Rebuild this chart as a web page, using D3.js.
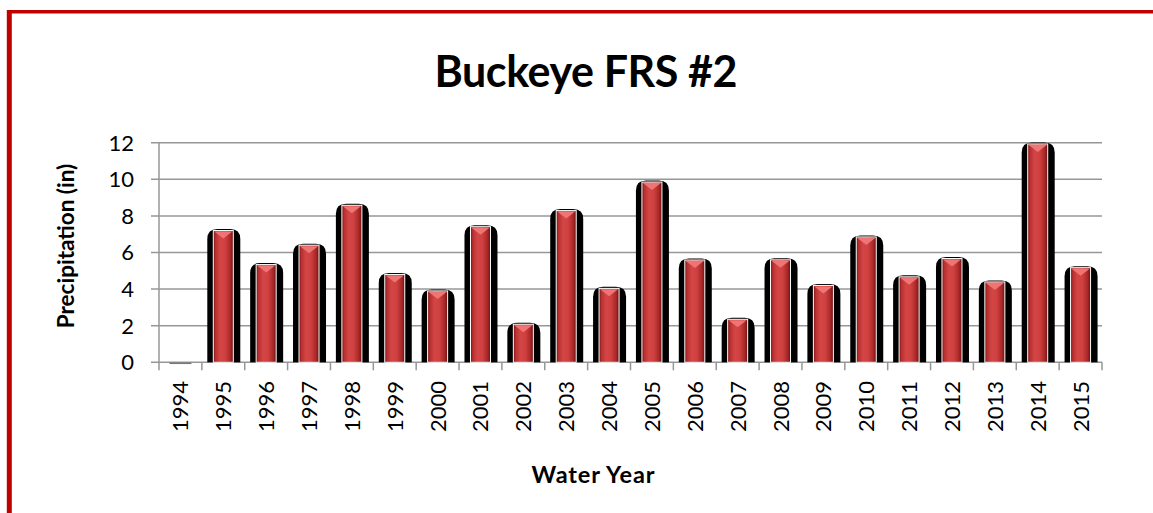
<!DOCTYPE html>
<html>
<head>
<meta charset="utf-8">
<script src="https://cdn.jsdelivr.net/npm/d3@7"></script>
<style>
  html, body { margin: 0; padding: 0; background: #fff; }
  svg { display: block; }
</style>
</head>
<body>
<svg id="chart" width="1153" height="513"></svg>
<script>
const years = ['1994', '1995', '1996', '1997', '1998', '1999', '2000', '2001', '2002', '2003', '2004',
  '2005', '2006', '2007', '2008', '2009', '2010', '2011', '2012', '2013', '2014', '2015'];
const precip = [0, 7.2, 5.34, 6.4, 8.58, 4.8, 3.9, 7.41, 2.08, 8.29, 4.04,
  9.85, 5.59, 2.35, 5.6, 4.2, 6.85, 4.67, 5.67, 4.39, 11.93, 5.17];
const yTicks = [0, 2, 4, 6, 8, 10, 12];

const font = "Lato, Carlito, 'Open Sans', sans-serif";
const svg = d3.select('#chart');

// frame (red border, only top and left are in view)
svg.append('line')
  .attr('x1', 7).attr('x2', 1153).attr('y1', 11.7).attr('y2', 11.7)
  .attr('stroke', '#c00000').attr('stroke-width', 3.5);
svg.append('line')
  .attr('x1', 9.3).attr('x2', 9.3).attr('y1', 10).attr('y2', 513)
  .attr('stroke', '#c00000').attr('stroke-width', 5);

const plot = { left: 159, right: 1102, top: 142.7, bottom: 362.3 };

const x = d3.scaleBand()
  .domain(years)
  .range([plot.left, plot.right])
  .padding(0);

const y = d3.scaleLinear()
  .domain([0, 12])
  .range([plot.bottom, plot.top]);

// gradient for the red bars
const defs = svg.append('defs');
const grad = defs.append('linearGradient')
  .attr('id', 'barGrad')
  .attr('x1', '0%').attr('x2', '100%').attr('y1', '0%').attr('y2', '0%');
[
  ['0%', '#7a1212'],
  ['12%', '#b83030'],
  ['35%', '#d44646'],
  ['60%', '#cf4040'],
  ['85%', '#a82828'],
  ['100%', '#6e1010'],
].forEach(([o, c]) => grad.append('stop').attr('offset', o).attr('stop-color', c));

/****************** grid + axes ******************/
svg.append('g')
  .selectAll('line')
  .data(yTicks.filter(d => d > 0))
  .join('line')
  .attr('x1', plot.left - 8)
  .attr('x2', plot.right)
  .attr('y1', d => y(d))
  .attr('y2', d => y(d))
  .attr('stroke', '#979797')
  .attr('stroke-width', 1.5);

// y axis line + zero line
svg.append('line')
  .attr('x1', plot.left).attr('x2', plot.left)
  .attr('y1', plot.top).attr('y2', plot.bottom + 8)
  .attr('stroke', '#979797').attr('stroke-width', 1.5);
svg.append('line')
  .attr('x1', plot.left - 8).attr('x2', plot.right)
  .attr('y1', y(0)).attr('y2', y(0))
  .attr('stroke', '#979797').attr('stroke-width', 1.5);

// x ticks between categories
svg.append('g')
  .selectAll('line')
  .data(years)
  .join('line')
  .attr('x1', d => x(d) + x.bandwidth())
  .attr('x2', d => x(d) + x.bandwidth())
  .attr('y1', y(0))
  .attr('y2', y(0) + 8)
  .attr('stroke', '#979797')
  .attr('stroke-width', 1.5);

// y tick labels
svg.append('g')
  .selectAll('text')
  .data(yTicks)
  .join('text')
  .text(d => d)
  .attr('x', 134)
  .attr('y', d => y(d))
  .attr('dy', '0.36em')
  .attr('text-anchor', 'end')
  .attr('font-size', '22px')
  .attr('font-family', font)
  .attr('fill', '#000');

// x tick labels (rotated)
svg.append('g')
  .selectAll('text')
  .data(years)
  .join('text')
  .text(d => d)
  .attr('transform', d => `translate(${x(d) + x.bandwidth() / 2 + 8},381) rotate(-90)`)
  .attr('text-anchor', 'end')
  .attr('font-size', '22px')
  .attr('font-family', font)
  .attr('fill', '#000');
/****************** grid + axes ******************/

/****************** bars ******************/
const backW = 33;
const frontW = 20;
const rad = 10;

const bars = svg.append('g')
  .selectAll('g')
  .data(years.map((yr, i) => ({ yr, v: precip[i] })))
  .join('g');

// black rounded back shape
bars.filter(d => d.v > 0)
  .append('path')
  .attr('d', d => {
    const cx = x(d.yr) + x.bandwidth() / 2 + 0.5;
    const x0 = cx - backW / 2, x1 = cx + backW / 2;
    const top = y(d.v) - 1.5, base = y(0);
    const r = Math.min(rad, (base - top) / 2);
    return `M${x0},${base} L${x0},${top + r} Q${x0},${top} ${x0 + r},${top} ` +
      `L${x1 - r},${top} Q${x1},${top} ${x1},${top + r} L${x1},${base} Z`;
  })
  .attr('fill', '#000');

// red front cylinder
bars.filter(d => d.v > 0)
  .append('rect')
  .attr('x', d => x(d.yr) + x.bandwidth() / 2 - frontW / 2)
  .attr('y', d => y(d.v))
  .attr('width', frontW)
  .attr('height', d => y(0) - y(d.v))
  .attr('fill', 'url(#barGrad)')
  .attr('stroke', '#fff')
  .attr('stroke-width', 1);

// pink cap triangle
bars.filter(d => d.v > 0)
  .append('path')
  .attr('d', d => {
    const cx = x(d.yr) + x.bandwidth() / 2;
    const t = y(d.v) + 1;
    return `M${cx - frontW / 2 + 1},${t} L${cx + frontW / 2 - 1},${t} L${cx},${t + 7} Z`;
  })
  .attr('fill', '#ef7474');

// zero value bar is just a flat line
bars.filter(d => d.v === 0)
  .append('line')
  .attr('x1', d => x(d.yr) + x.bandwidth() / 2 - 11)
  .attr('x2', d => x(d.yr) + x.bandwidth() / 2 + 11)
  .attr('y1', y(0) + 1)
  .attr('y2', y(0) + 1)
  .attr('stroke', '#777')
  .attr('stroke-width', 1.5);
/****************** bars ******************/

/****************** titles ******************/
svg.append('text')
  .text('Buckeye FRS #2')
  .attr('x', 586)
  .attr('y', 87)
  .attr('text-anchor', 'middle')
  .attr('font-size', '43px')
  .attr('font-weight', 700)
  .attr('textLength', 303)
  .attr('lengthAdjust', 'spacing')
  .attr('font-family', font)
  .attr('fill', '#000');

svg.append('text')
  .text('Precipitation (in)')
  .attr('transform', 'translate(74,246) rotate(-90)')
  .attr('text-anchor', 'middle')
  .attr('font-size', '22.5px')
  .attr('font-weight', 700)
  .attr('font-family', font)
  .attr('fill', '#000');

svg.append('text')
  .text('Water Year')
  .attr('x', 593)
  .attr('y', 483)
  .attr('text-anchor', 'middle')
  .attr('font-size', '23.5px')
  .attr('font-weight', 700)
  .attr('textLength', 123)
  .attr('lengthAdjust', 'spacing')
  .attr('font-family', font)
  .attr('fill', '#000');
/****************** titles ******************/
</script>
</body>
</html>
